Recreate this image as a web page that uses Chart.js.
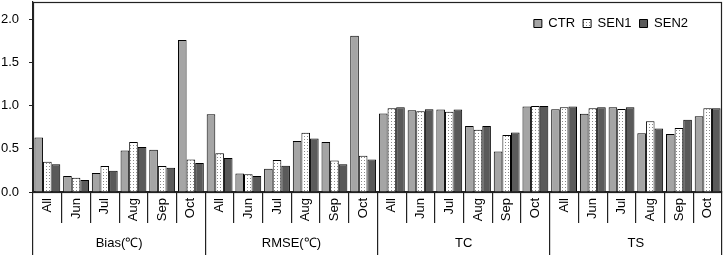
<!DOCTYPE html>
<html>
<head>
<meta charset="utf-8">
<script src="https://cdn.jsdelivr.net/npm/chart.js@4"></script>
<style>
  html, body { margin: 0; padding: 0; background: #fff; }
  #wrap { width: 726px; height: 257px; position: relative; }
</style>
</head>
<body>
<div id="wrap"><canvas id="c" width="726" height="257"></canvas></div>
<script>
const groups = ['Bias(℃)', 'RMSE(℃)', 'TC', 'TS'];
const months = ['All', 'Jun', 'Jul', 'Aug', 'Sep', 'Oct'];
const seriesNames = ['CTR', 'SEN1', 'SEN2'];
const ctr  = [0.63, 0.185, 0.22, 0.48, 0.49, 1.76,  0.90, 0.215, 0.27, 0.59, 0.58, 1.81,  0.91, 0.946, 0.956, 0.765, 0.47, 0.99,  0.958, 0.907, 0.98, 0.68, 0.673, 0.877];
const sen1 = [0.35, 0.165, 0.30, 0.58, 0.30, 0.375, 0.45, 0.205, 0.37, 0.685, 0.365, 0.42, 0.97, 0.935, 0.93, 0.72, 0.66, 0.995,  0.98, 0.97, 0.96, 0.82, 0.742, 0.97];
const sen2 = [0.32, 0.14, 0.245, 0.52, 0.28, 0.335, 0.395, 0.185, 0.305, 0.62, 0.32, 0.375, 0.98, 0.958, 0.954, 0.765, 0.69, 0.995, 0.99, 0.98, 0.98, 0.735, 0.838, 0.97];
const yTicks = [0, 0.5, 1.0, 1.5, 2.0];

const labels = groups.flatMap(() => months);
const FONT = "'Liberation Sans', Arial, sans-serif";

function dotPattern() {
  const p = document.createElement('canvas');
  p.width = 3; p.height = 3;
  const g = p.getContext('2d');
  g.fillStyle = '#ffffff'; g.fillRect(0, 0, 3, 3);
  g.fillStyle = '#8a8a8a'; g.fillRect(1, 1, 1, 1);
  return g.createPattern(p, 'repeat');
}

const frame = {
  id: 'frame',
  afterInit(chart) {
    const lg = chart.legend;
    if (lg) {
      const origFit = lg.fit;
      lg.fit = function () { origFit.call(this); this._realHeight = this.height; this.height = 0; };
    }
  },
  afterLayout(chart) {
    const lg = chart.legend, ca = chart.chartArea;
    if (lg) {
      lg.top = ca.top + 7;
      lg.bottom = lg.top + (lg._realHeight || 30);
      lg.left = ca.left;
      lg.right = ca.right - 26;
    }
  },
  afterDraw(chart) {
    const {ctx, chartArea: a} = chart;
    ctx.save();
    ctx.strokeStyle = '#222';
    ctx.lineWidth = 1.2;
    ctx.strokeRect(a.left + 0.5, a.top + 0.5, a.right - a.left - 1, a.bottom - a.top);
    ctx.restore();
  }
};

const data = [ctr, sen1, sen2];
const fills = ['#a5a5a5', dotPattern(), '#5a5a5a'];

new Chart(document.getElementById('c'), {
  type: 'bar',
  data: {
    labels: labels,
    datasets: seriesNames.map((n, i) => ({
      label: n,
      data: data[i],
      backgroundColor: fills[i],
      borderColor: '#000',
      borderWidth: 1,
      categoryPercentage: 0.9,
      barPercentage: 1.0,
      xAxisID: 'x'
    }))
  },
  options: {
    responsive: false,
    animation: false,
    devicePixelRatio: 1,
    layout: { padding: { top: 2, right: 4, left: 0, bottom: 0 } },
    plugins: {
      tooltip: { enabled: false },
      legend: {
        position: 'top',
        align: 'end',
        labels: {
          boxWidth: 8, boxHeight: 8, padding: 8,
          color: '#000',
          font: { family: FONT, size: 13 }
        }
      }
    },
    scales: {
      y: {
        min: 0, max: 2.2,
        afterBuildTicks: s => { s.ticks = yTicks.map(v => ({ value: v })); },
        afterFit: s => { s.width = 33; s.paddingTop = 0; s.paddingBottom = 0; },
        ticks: {
          padding: 10,
          color: '#000',
          font: { family: FONT, size: 13 },
          callback: v => Number(v).toFixed(1)
        },
        grid: { drawOnChartArea: false, drawTicks: true, tickLength: 4, color: '#222' },
        border: { display: true, color: '#222', width: 1.2 }
      },
      x: {
        type: 'category',
        position: 'bottom',
        weight: 0,
        offset: true,
        afterFit: s => { s.height = 31; s.paddingLeft = 0; s.paddingRight = 0; },
        ticks: {
          autoSkip: false,
          minRotation: 90, maxRotation: 90,
          padding: -25,
          color: '#000',
          font: { family: FONT, size: 13 }
        },
        grid: { offset: true, drawOnChartArea: false, drawTicks: true, tickLength: 31, color: '#222', lineWidth: 1.2 },
        border: { display: true, color: '#222', width: 1.2 }
      },
      x2: {
        type: 'category',
        position: 'bottom',
        weight: 1,
        labels: groups,
        offset: true,
        afterFit: s => { s.height = 34; s.paddingLeft = 0; s.paddingRight = 0; },
        ticks: {
          autoSkip: false,
          maxRotation: 0, minRotation: 0,
          padding: -19,
          color: '#000',
          font: { family: FONT, size: 13 }
        },
        grid: { offset: true, drawOnChartArea: false, drawTicks: true, tickLength: 32, color: '#222', lineWidth: 1.2 },
        border: { display: false }
      }
    }
  },
  plugins: [frame]
});
</script>
</body>
</html>
